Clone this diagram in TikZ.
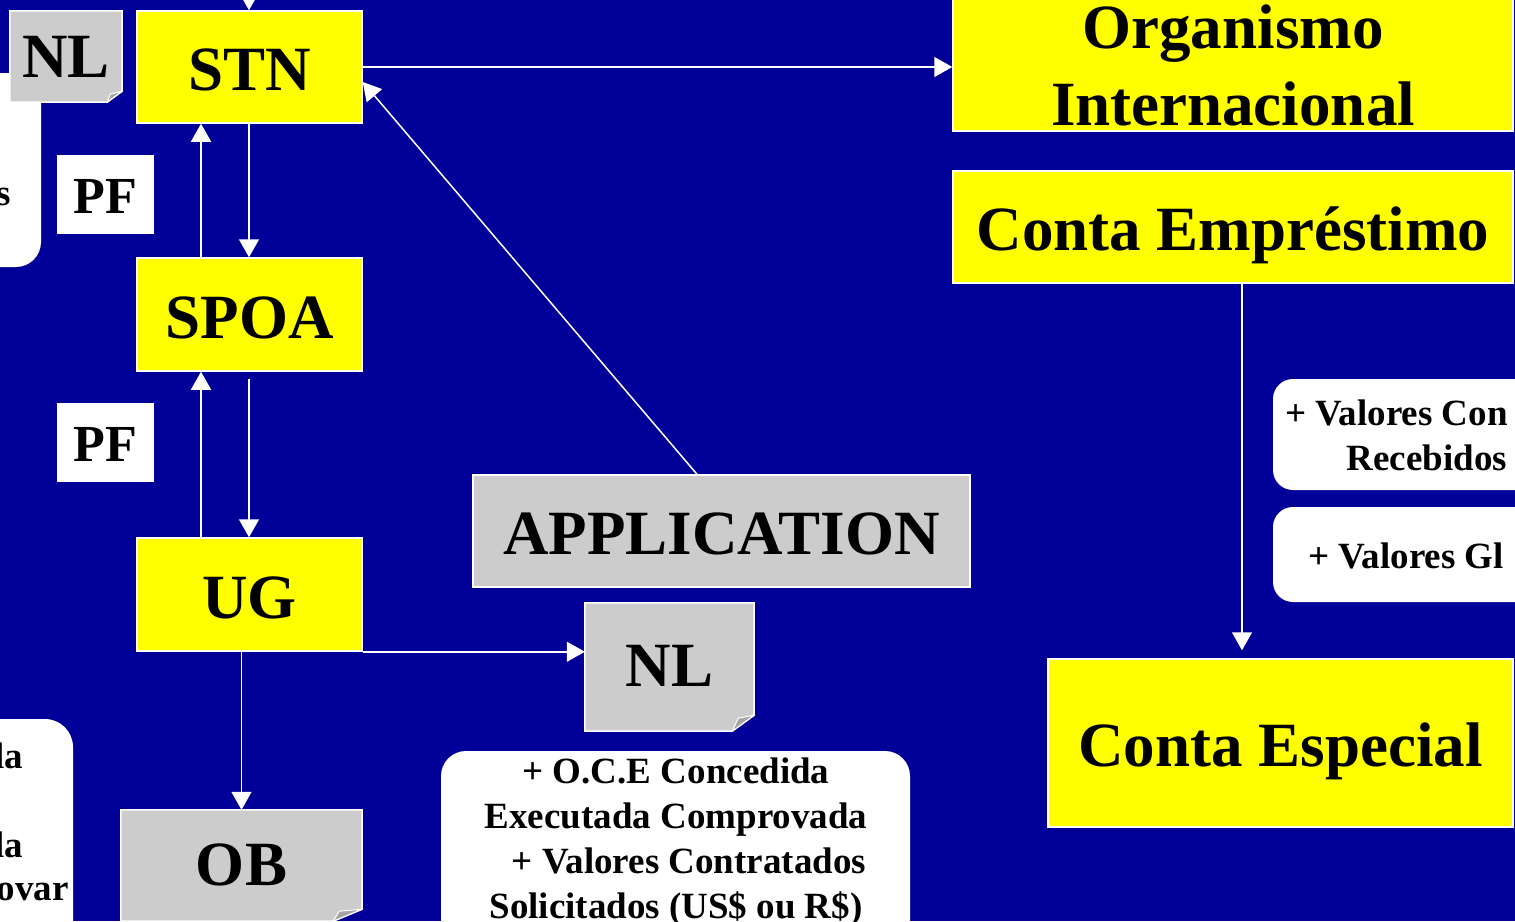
\documentclass[tikz,border=0pt]{standalone}
\usepackage{fontspec}
\setmainfont{Liberation Serif}
\usetikzlibrary{arrows.meta,calc}
\definecolor{bgblue}{RGB}{0,0,153}
\definecolor{yellowc}{RGB}{255,255,0}
\definecolor{gfill}{RGB}{204,204,204}
\definecolor{gfold}{RGB}{165,165,165}
\pgfdeclarelayer{back}
\pgfdeclarelayer{shapes}
\pgfsetlayers{back,shapes,main}
\tikzset{
  big/.style={font=\bfseries\fontsize{63}{77}\selectfont},
  yb/.style={big, draw=white, line width=1.5pt, fill=yellowc, inner sep=0pt},
  ybox/.style={yb, text height=47pt, text depth=0pt},
  gbox/.style={big, inner sep=0pt, text depth=0pt},
  pfbox/.style={font=\bfseries\fontsize{52}{60}\selectfont, fill=white, inner sep=0pt, text height=38pt, text depth=0pt},
  wbox/.style={fill=white, inner sep=0pt},
  small/.style={font=\bfseries\fontsize{37}{45}\selectfont, inner sep=0pt},
  arr/.style={draw=white, line width=1.5pt, -{Triangle[length=18pt,width=20pt]}},
  dogear/.style={fill=gfill, draw=white, line width=1.5pt, line join=miter},
  fold/.style={fill=gfold, draw=white, line width=1pt, line join=round},
}
\begin{document}
\begin{tikzpicture}[x=1pt,y=-1pt]
\useasboundingbox (0,0) rectangle (1515,921);
\clip (0,0) rectangle (1515,921);
\begin{pgfonlayer}{back}
  \clip (0,0) rectangle (1515,921);
  \fill[bgblue] (0,0) rectangle (1515,921);
  % white rounded boxes (partly outside the picture)
  \node[wbox, rounded corners=25pt, minimum width=101pt, minimum height=194pt] (lbox) at (-9.5,170) {};
  \node[wbox, rounded corners=28pt, minimum width=133pt, minimum height=260pt] (blbox) at (6.5,849) {};
  \node[wbox, rounded corners=20pt, minimum width=300pt, minimum height=111pt] (rb1) at (1423,434.5) {};
  \node[wbox, rounded corners=20pt, minimum width=300pt, minimum height=95pt] (rb2) at (1423,554.5) {};
  \node[wbox, rounded corners=25pt, minimum width=469pt, minimum height=229pt] (ocebox) at (675.5,865.5) {};
\end{pgfonlayer}

% yellow boxes
\node[ybox, minimum width=225pt, minimum height=112pt] (stn) at (249.5,67) {STN};
\node[ybox, minimum width=225pt, minimum height=113pt] (spoa) at (249.5,314.5) {SPOA};
\node[ybox, minimum width=225pt, minimum height=113pt] (ug) at (249.5,594.5) {UG};
\node[yb, align=center, minimum width=560pt, minimum height=132pt] (org) at (1233,65) {Organismo\\Internacional};
\node[ybox, minimum width=560pt, minimum height=112pt] (cemp) at (1233,227) {Conta Empréstimo};
\node[ybox, minimum width=465pt, minimum height=168pt] (cesp) at (1280.5,743) {Conta Especial};

% gray boxes
\node[gbox, text height=41pt, minimum width=112pt, minimum height=91pt] (nl1) at (66,56.5) {NL};
\node[gbox, text height=38pt, minimum width=169pt, minimum height=128pt] (nl2) at (669.5,667) {NL};
\node[gbox, text height=40pt, minimum width=241pt, minimum height=111pt] (ob) at (241.5,865.5) {OB};
\node[gbox, draw=white, line width=1.5pt, fill=gfill, text height=47pt, minimum width=497pt, minimum height=112pt] (app) at (721.5,531) {APPLICATION};

% PF boxes
\node[pfbox, minimum width=97pt, minimum height=79pt] (pf1) at (105.5,194.5) {PF};
\node[pfbox, minimum width=97pt, minimum height=79pt] (pf2) at (105.5,442.5) {PF};

% texts of white boxes
\node[small, anchor=base east] (ltxt) at (11,205) {s};
\node[small, anchor=base east] (bl1) at (23,768) {la};
\node[small, anchor=base east] (bl2) at (23,857) {la};
\node[small, anchor=base east] (bl3) at (69,900) {ovar};
\node[small, anchor=base west] (rt1) at (1285,425) {+ Valores Con};
\node[small, anchor=base] (rt2) at (1427,470) {Recebidos};
\node[small, anchor=base west] (rt3) at (1308,568) {+ Valores Gl};
\node[small, align=center, anchor=north] (ocetxt) at (676,753)
  {\rule{0pt}{30pt}+ O.C.E Concedida\\Executada Comprovada\\\hspace*{26pt}+ Valores Contratados\\Solicitados (US\$ ou R\$)};

% dog-eared gray shapes
\begin{pgfonlayer}{shapes}
  \clip (0,0) rectangle (1515,921);
  \path[dogear] (nl1.north west) -- (nl1.north east) -- ($(nl1.south east)+(0,-11)$) -- ($(nl1.south east)+(-15,0)$) -- (nl1.south west) -- cycle;
  \path[fold] ($(nl1.south east)+(-15,0)$) -- ($(nl1.south east)+(-12,-8)$) -- ($(nl1.south east)+(0,-11)$) -- cycle;
  \path[dogear] (nl2.north west) -- (nl2.north east) -- ($(nl2.south east)+(0,-16)$) -- ($(nl2.south east)+(-22,0)$) -- (nl2.south west) -- cycle;
  \path[fold] ($(nl2.south east)+(-22,0)$) -- ($(nl2.south east)+(-16,-13)$) -- ($(nl2.south east)+(0,-16)$) -- cycle;
  \path[dogear] (ob.north west) -- (ob.north east) -- ($(ob.south east)+(0,-12)$) -- ($(ob.south east)+(-29,0)$) -- (ob.south west) -- cycle;
  \path[fold] ($(ob.south east)+(-29,0)$) -- ($(ob.south east)+(-23,-10)$) -- ($(ob.south east)+(0,-12)$) -- cycle;
\end{pgfonlayer}

% connectors
\coordinate (topsrc) at (249,-40);
\coordinate (xl) at (201,0);
\coordinate (xr) at (249,0);
\coordinate (cx) at (1242,0);
\coordinate (appsrc) at ($(app.north)+(-24.5,0)$);
\coordinate (stnin) at ($(stn.east)+(0,15)$);
\draw[arr] (topsrc) -- (stn.north -| topsrc);
\draw[arr] (spoa.north -| xl) -- (stn.south -| xl);
\draw[arr] (stn.south -| xr) -- (spoa.north -| xr);
\draw[arr] (ug.north -| xl) -- (spoa.south -| xl);
\draw[arr, shorten <=7pt] (spoa.south -| xr) -- (ug.north -| xr);
\draw[arr] (ug.south east) -- (ug.south east -| nl2.west);
\draw[arr] (ug.south -| ob.north) -- (ob.north);
\draw[arr] (stn.east) -- (stn.east -| org.west);
\draw[arr] (appsrc) -- (stnin);
\draw[arr, shorten >=8pt] (cemp.south -| cx) -- (cesp.north -| cx);
\end{tikzpicture}
\end{document}
